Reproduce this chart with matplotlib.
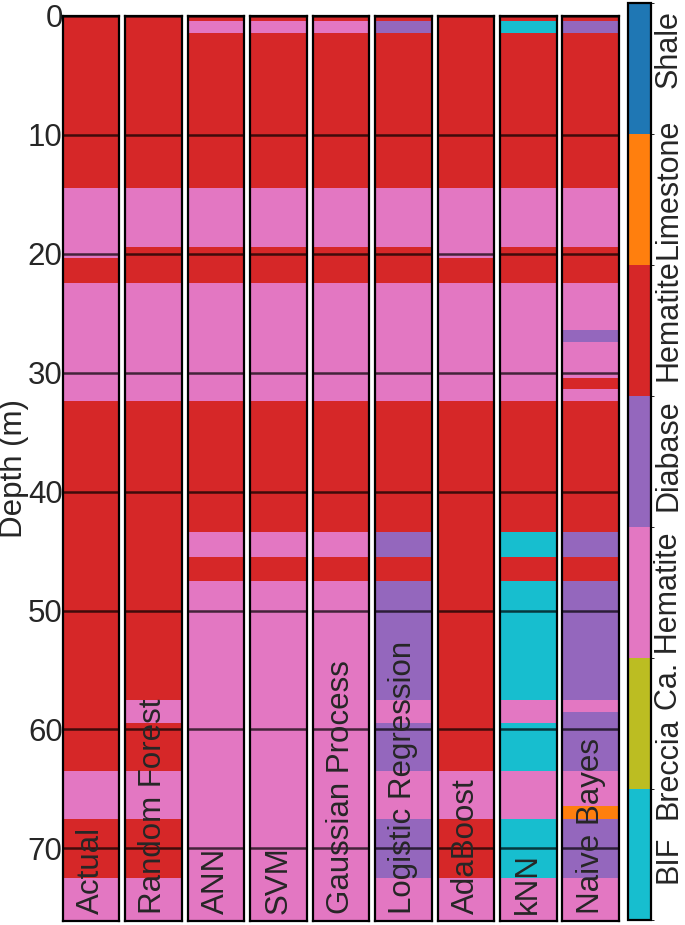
import numpy as np
import matplotlib
matplotlib.use("Agg")
import matplotlib.pyplot as plt
from matplotlib.colors import ListedColormap, BoundaryNorm
from matplotlib.cm import ScalarMappable

plt.rcParams['font.family'] = ['Liberation Sans', 'DejaVu Sans']
TEXT = "#262626"
FS = 22.5

lithologies = ["BIF", "Breccia", "Ca. Hematite", "Diabase", "Hematite", "Limestone", "Shale"]
litho_colors = ["#17becf", "#bcbd22", "#e377c2", "#9467bd", "#d62728", "#ff7f0e", "#1f77b4"]
# where each lithology name sits along the colour bar (bar units, -0.5 .. 6.5)
label_pos = [-0.04, 0.66, 1.78, 3.05, 4.08, 5.08, 6.15]
BI, BR, CH, DI, HE, LI, SH = range(7)

# interval edges (m), shared by all logs
depth_edges = [0, 0.43, 1.44, 14.45, 19.43, 20.35, 22.45, 26.46, 27.46, 30.45, 31.38,
               32.42, 43.4, 45.48, 47.53, 57.5, 58.5, 59.48, 63.5, 66.47, 67.54, 72.5, 76.1]

actual = [HE, HE, HE, CH, CH, HE, CH, CH, CH, CH, CH, HE, HE, HE, HE, HE, HE, HE, CH, CH, HE, CH]
random_forest = [HE, HE, HE, CH, HE, HE, CH, CH, CH, CH, CH, HE, HE, HE, HE, CH, CH, HE, CH, CH, HE, CH]
ann = [HE, CH, HE, CH, HE, HE, CH, CH, CH, CH, CH, HE, CH, HE, CH, CH, CH, CH, CH, CH, CH, CH]
svm = [HE, CH, HE, CH, HE, HE, CH, CH, CH, CH, CH, HE, CH, HE, CH, CH, CH, CH, CH, CH, CH, CH]
gaussian = [HE, CH, HE, CH, HE, HE, CH, CH, CH, CH, CH, HE, CH, HE, CH, CH, CH, CH, CH, CH, CH, CH]
logistic = [HE, DI, HE, CH, HE, HE, CH, CH, CH, CH, CH, HE, DI, HE, DI, CH, CH, DI, CH, CH, DI, CH]
adaboost = [HE, HE, HE, CH, CH, HE, CH, CH, CH, CH, CH, HE, HE, HE, HE, HE, HE, HE, CH, CH, HE, CH]
knn = [HE, BI, HE, CH, HE, HE, CH, CH, CH, CH, CH, HE, BI, HE, BI, CH, CH, BI, CH, CH, BI, CH]
naive_bayes = [HE, DI, HE, CH, HE, HE, CH, DI, CH, HE, CH, HE, DI, HE, DI, CH, DI, DI, CH, LI, DI, CH]

model_names = ["Actual", "Random Forest", "ANN", "SVM", "Gaussian Process",
               "Logistic Regression", "AdaBoost", "kNN", "Naive Bayes"]
model_logs = [actual, random_forest, ann, svm, gaussian, logistic, adaboost, knn, naive_bayes]

cmap = ListedColormap(litho_colors)
norm = BoundaryNorm(np.arange(-0.5, len(lithologies) + 0.5, 1), cmap.N)

fig = plt.figure(figsize=(6.85, 9.25), dpi=100)

left0, width, step = 0.0915, 0.0826, 0.0912
bottom, height = 0.0043, 0.9788

for i, (name, log) in enumerate(zip(model_names, model_logs)):
    ax = fig.add_axes([left0 + i * step, bottom, width, height])
    codes = np.array(log)[:, None]
    ax.pcolormesh([0, 1], depth_edges, codes, cmap=cmap, norm=norm)
    ax.set_xlim(0, 1)
    ax.set_ylim(depth_edges[-1], 0)
    ax.set_xticks([])
    ax.set_yticks(np.arange(0, 80, 10))
    ax.yaxis.grid(True, color="black", linewidth=1.8, alpha=0.7)
    ax.tick_params(axis="y", length=0, pad=0, labelsize=FS, labelcolor=TEXT)
    for sp in ax.spines.values():
        sp.set_linewidth(1.6)
    if i == 0:
        ax.set_ylabel("Depth (m)", fontsize=FS, color=TEXT)
        ax.yaxis.set_label_coords(-0.6, 0.5)
    else:
        ax.set_yticklabels([])
    ax.text(0.5, 0.008, name, transform=ax.transAxes, rotation=90,
            ha="center", va="bottom", fontsize=FS, color=TEXT)

cax = fig.add_axes([0.9175, 0.0054, 0.0328, 0.9914])
cb = fig.colorbar(ScalarMappable(norm=norm, cmap=cmap), cax=cax, ticks=label_pos)
cb.set_ticklabels(lithologies)
cb.outline.set_linewidth(1.6)
cax.tick_params(length=0, pad=2, labelsize=22, labelcolor=TEXT)
for lab in cax.get_yticklabels():
    lab.set_rotation(90)
    lab.set_va("center")

fig.savefig("out.png", dpi=100)
